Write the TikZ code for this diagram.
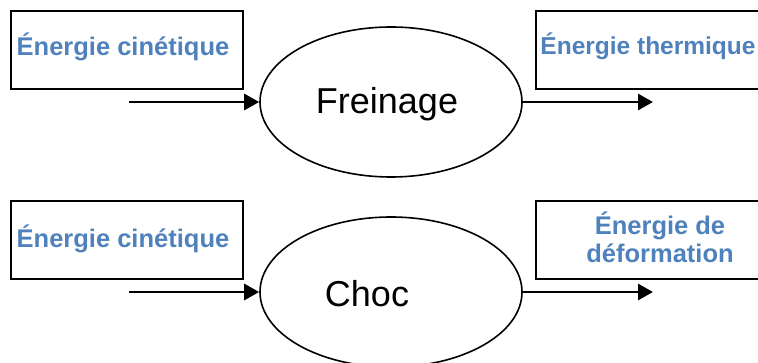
\documentclass[tikz,border=0pt]{standalone}
\usepackage{fontspec}
\setmainfont{Liberation Sans}
\usetikzlibrary{shapes.geometric,arrows.meta}
\definecolor{energyblue}{HTML}{4F81BD}
\tikzset{
  energybox/.style={draw, line width=1.6pt, rectangle, minimum height=78pt, inner sep=0pt},
  energytext/.style={font=\fontsize{25.5}{28}\selectfont\bfseries, text=energyblue, align=center, inner sep=0pt},
  process/.style={draw, line width=1.6pt, ellipse, minimum width=262pt, minimum height=150pt, inner sep=0pt},
  proclabel/.style={font=\fontsize{36}{40}\selectfont, inner sep=0pt},
  flow/.style={line width=2.8pt, -{Triangle[length=15pt,width=16pt]}}
}
\begin{document}
\begin{tikzpicture}[x=1pt,y=-1pt]
  \useasboundingbox (0,0) rectangle (758,363);
  \clip (0,0) rectangle (758,363);

  % braking: kinetic energy -> thermal energy
  \node[energybox, minimum width=232pt] (kin1) at (127,50) {};
  \node[energytext] (kin1lbl) at (123,47) {Énergie cinétique};
  \node[process] (frein) at (391,102) {};
  \node[proclabel] (freinlbl) at (387,104) {Freinage};
  \node[energybox, minimum width=230pt] (therm) at (651,50) {};
  \node[energytext, font=\fontsize{24.5}{28}\selectfont\bfseries] (thermlbl) at (648,46) {Énergie thermique};
  \coordinate (in1) at (129,102);
  \coordinate (out1) at (653,102);
  \draw[flow] (in1) -- (frein.west);
  \draw[flow] (frein.east) -- (out1);

  % impact: kinetic energy -> deformation energy
  \node[energybox, minimum width=232pt] (kin2) at (127,240) {};
  \node[energytext] (kin2lbl) at (123,239) {Énergie cinétique};
  \node[process] (choc) at (391,292) {};
  \node[proclabel] (choclbl) at (367,294) {Choc};
  \node[energybox, minimum width=248pt] (deform) at (660,240) {};
  \node[energytext] (deformlbl) at (660,237) {Énergie de\\déformation};
  \coordinate (in2) at (129,292);
  \coordinate (out2) at (653,292);
  \draw[flow] (in2) -- (choc.west);
  \draw[flow] (choc.east) -- (out2);
\end{tikzpicture}
\end{document}
